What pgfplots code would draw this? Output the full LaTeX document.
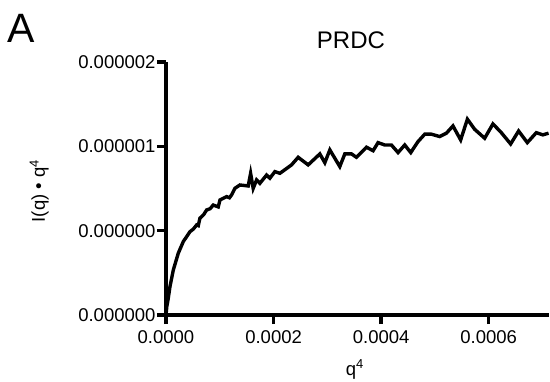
\documentclass[border=0pt]{standalone}
\usepackage{fontspec}
\setmainfont{Liberation Sans}
\usepackage{pgfplots}
\pgfplotsset{compat=1.18}
\begin{document}
\begin{tikzpicture}
\begin{axis}[
  at={(0,0)}, anchor=south west,
  scale only axis, width=383pt, height=253pt,
  xmin=0, xmax=7.12e-4, ymin=0, ymax=1.5e-6,
  axis lines=left,
  axis line style={line width=3.6pt, -},
  xtick={0,2e-4,4e-4,6e-4},
  xticklabels={0.0000,0.0002,0.0004,0.0006},
  ytick={0,5e-7,1e-6,1.5e-6},
  yticklabels={0.000000,0.000000,0.000001,0.000002},
  scaled ticks=false,
  tick align=outside,
  major tick length=9pt,
  tick style={line width=3.4pt, black},
  ticklabel style={font=\fontsize{18.5}{20}\selectfont},
  x tick label style={yshift=-3pt},
  y tick label style={xshift=2pt},
  title={PRDC},
  title style={at={(axis description cs:0.483,1)}, anchor=base, yshift=8pt, font=\fontsize{24}{26}\selectfont},
  xlabel={q\textsuperscript{4}},
  xlabel style={font=\fontsize{18.5}{20}\selectfont, at={(axis description cs:0.493,0)}, anchor=base, yshift=-60pt},
  ylabel={I(q) • q\textsuperscript{4}},
  ylabel style={font=\fontsize{18.5}{20}\selectfont, at={(axis description cs:-0.316,0.49)}, anchor=base},
  clip=false,
]
\addplot[black, line width=3.4pt, line join=miter] table {
x y
0 0
0.015e-4 0.50e-7
0.040e-4 0.95e-7
0.074e-4 1.68e-7
0.136e-4 2.67e-7
0.228e-4 3.66e-7
0.321e-4 4.35e-7
0.446e-4 4.94e-7
0.510e-4 5.10e-7
0.570e-4 5.34e-7
0.600e-4 5.30e-7
0.631e-4 5.74e-7
0.700e-4 5.95e-7
0.756e-4 6.23e-7
0.820e-4 6.30e-7
0.878e-4 6.52e-7
0.971e-4 6.41e-7
1.003e-4 6.82e-7
1.127e-4 7.02e-7
1.180e-4 6.95e-7
1.220e-4 7.12e-7
1.281e-4 7.51e-7
1.374e-4 7.71e-7
1.528e-4 7.65e-7
1.573e-4 8.40e-7
1.621e-4 7.51e-7
1.684e-4 8.01e-7
1.746e-4 7.81e-7
1.870e-4 8.30e-7
1.931e-4 8.11e-7
2.024e-4 8.50e-7
2.117e-4 8.40e-7
2.334e-4 8.90e-7
2.457e-4 9.35e-7
2.643e-4 8.90e-7
2.860e-4 9.55e-7
2.953e-4 9.03e-7
3.046e-4 9.79e-7
3.231e-4 8.80e-7
3.324e-4 9.55e-7
3.448e-4 9.55e-7
3.541e-4 9.35e-7
3.727e-4 9.95e-7
3.850e-4 9.74e-7
3.942e-4 10.22e-7
4.067e-4 10.08e-7
4.191e-4 10.08e-7
4.314e-4 9.63e-7
4.438e-4 10.08e-7
4.550e-4 9.63e-7
4.685e-4 10.28e-7
4.810e-4 10.72e-7
4.934e-4 10.72e-7
5.088e-4 10.58e-7
5.213e-4 10.78e-7
5.335e-4 11.21e-7
5.478e-4 10.38e-7
5.603e-4 11.61e-7
5.738e-4 11.01e-7
5.924e-4 10.48e-7
6.078e-4 11.33e-7
6.234e-4 10.81e-7
6.407e-4 10.14e-7
6.555e-4 10.91e-7
6.717e-4 10.22e-7
6.884e-4 10.81e-7
7.006e-4 10.68e-7
7.112e-4 10.78e-7
};
\end{axis}
\node[anchor=base west, inner sep=0pt, font=\fontsize{41}{41}\selectfont] at (-159pt,272pt) {A};
\pgfresetboundingbox
\path (-166pt,-66pt) rectangle (384pt,315pt);
\end{tikzpicture}
\end{document}
